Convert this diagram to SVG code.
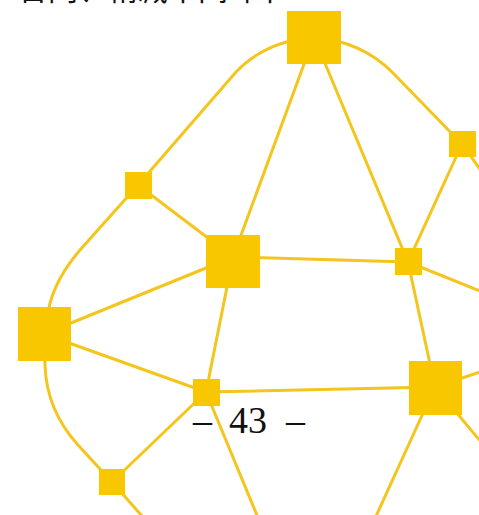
<svg xmlns="http://www.w3.org/2000/svg" width="479" height="515" viewBox="0 0 479 515">
<style>
.e{fill:none;stroke:#F4C51C;stroke-width:3;stroke-linecap:round}
.n{fill:#F9C700}
.t{font-family:"Noto Sans CJK SC","Noto Sans CJK JP",sans-serif;font-size:30px;fill:#111}
.p{font-family:"Liberation Serif",serif;font-size:38px;fill:#111}
</style>
<rect width="479" height="515" fill="#fff"/>
<text class="t" x="18" y="0">合同、精减中间环节</text>
<g id="connectors">
<path class="e" d="M314,37 C280,40 255,52 236,72 L138,185"/>
<path class="e" d="M314,37 C345,40 372,52 392,72 L462,144"/>
<path class="e" d="M314,37 L233,257"/>
<path class="e" d="M314,37 L408,262"/>
<path class="e" d="M462,144 L408,262"/>
<path class="e" d="M462,144 L492,186"/>
<path class="e" d="M138,185 L233,257"/>
<path class="e" d="M138,185 L80,250 Q50,285 47,320"/>
<path class="e" d="M233,257 L408,262"/>
<path class="e" d="M233,257 L44,334"/>
<path class="e" d="M233,257 L206,392"/>
<path class="e" d="M44,334 L206,392"/>
<path class="e" d="M206,392 L435,387"/>
<path class="e" d="M408,262 L435,387"/>
<path class="e" d="M408,262 L492,296"/>
<path class="e" d="M435,387 L492,368"/>
<path class="e" d="M435,387 L492,455"/>
<path class="e" d="M435,387 L372,525"/>
<path class="e" d="M206,392 L261,525"/>
<path class="e" d="M206,392 L112,482"/>
<path class="e" d="M45,334 L45,365 C46,400 60,425 78,445 L112,482"/>
<path class="e" d="M112,482 L150,525"/>
</g>
<g id="n-top"><rect class="n" x="287" y="11" width="54" height="53"/></g>
<g id="n-right-upper"><rect class="n" x="449" y="131" width="27" height="26"/></g>
<g id="n-left-small"><rect class="n" x="125" y="172" width="27" height="27"/></g>
<g id="n-center"><rect class="n" x="206" y="235" width="54" height="53"/></g>
<g id="n-mid-right"><rect class="n" x="395" y="248" width="27" height="27"/></g>
<g id="n-left"><rect class="n" x="18" y="307" width="53" height="54"/></g>
<g id="n-bottom-center"><rect class="n" x="193" y="379" width="27" height="27"/></g>
<g id="n-right"><rect class="n" x="409" y="361" width="53" height="54"/></g>
<g id="n-bottom-left"><rect class="n" x="99" y="469" width="26" height="26"/></g>
<text class="p" y="433"><tspan x="193">–</tspan><tspan x="229">43</tspan><tspan x="286">–</tspan></text>
</svg>
